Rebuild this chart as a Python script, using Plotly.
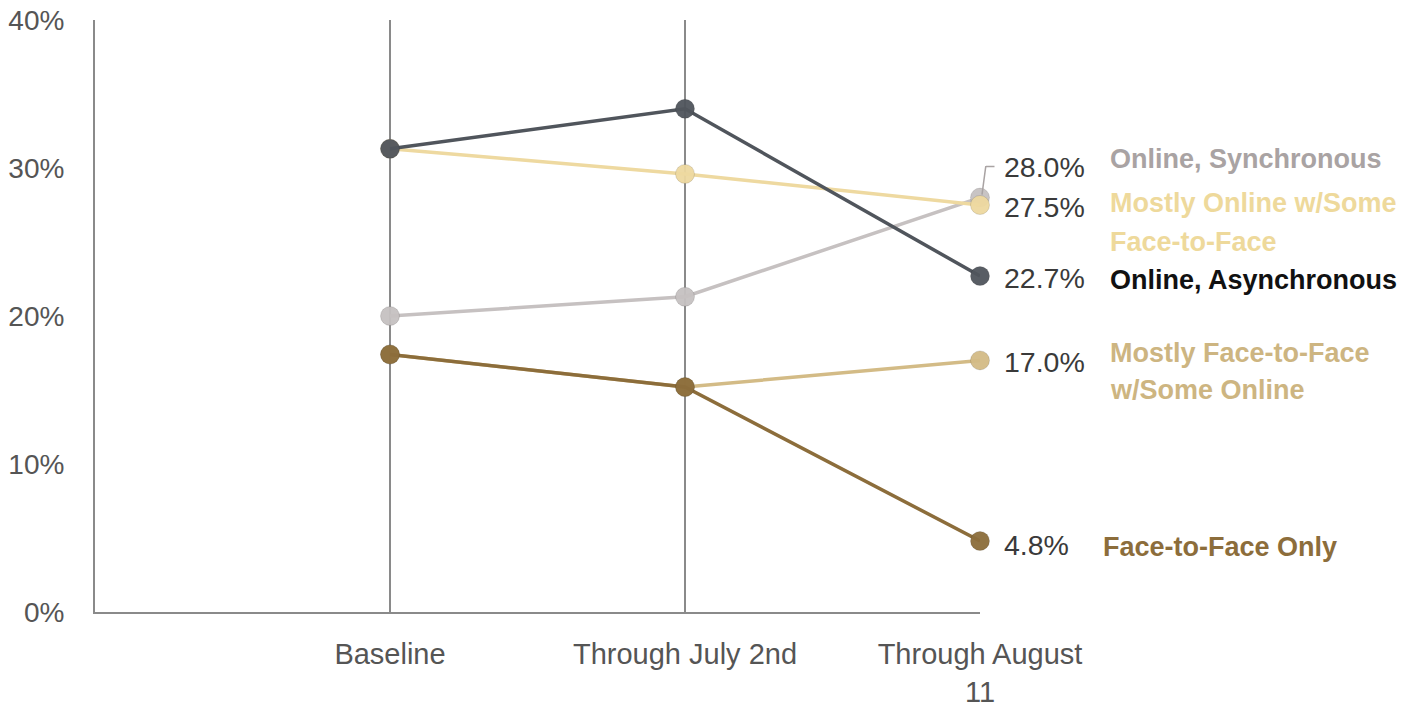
import plotly.graph_objects as go

categories = ["Baseline", "Through July 2nd", "Through August<br>11"]
x_pos = [0, 1, 2]
y_ticks = [0, 10, 20, 30, 40]
y_tick_labels = ["0%", "10%", "20%", "30%", "40%"]

series_names = [
    "Mostly Face-to-Face w/Some Online",
    "Face-to-Face Only",
    "Online, Synchronous",
    "Mostly Online w/Some Face-to-Face",
    "Online, Asynchronous",
]
mostly_f2f = [17.4, 15.2, 17.0]
f2f_only = [17.4, 15.2, 4.8]
online_sync = [20.0, 21.3, 28.0]
mostly_online = [31.3, 29.6, 27.5]
online_async = [31.3, 34.0, 22.7]
series_values = [mostly_f2f, f2f_only, online_sync, mostly_online, online_async]

line_colors = ["#d3bb86", "#8c6d3b", "#c6c1c1", "#eed9a0", "#50555c"]
label_colors = ["#cdb581", "#8c6d3b", "#a9a3a3", "#eed99b", "#111111"]

# name label lines with vertical pixel offset from final point
name_lines = [
    [("Mostly Face-to-Face", 7), ("w/Some Online", -30)],
    [("Face-to-Face Only", -6)],
    [("Online, Synchronous", 39)],
    [("Mostly Online w/Some", 2), ("Face-to-Face", -37)],
    [("Online, Asynchronous", -4)],
]
name_xshift = [128, 121, 128, 128, 128]
value_yshift = [-2, -4, 31, -2, -2]

FONT = "Liberation Sans"
FS = 27
fig = go.Figure()
for name, vals, lc in zip(series_names, series_values, line_colors):
    fig.add_trace(go.Scatter(
        x=x_pos, y=vals, mode="lines+markers", name=name,
        line=dict(color=lc, width=3.5),
        marker=dict(size=19, color=lc, opacity=0.95,
                    line=dict(color="rgba(0,0,0,0.12)", width=1)),
        showlegend=False, cliponaxis=False,
    ))

for vals, lines, lab_c, xs, vys in zip(series_values, name_lines, label_colors,
                                       name_xshift, value_yshift):
    last = vals[-1]
    fig.add_annotation(x=2, y=last, xref="x", yref="y", text=f"{last:.1f}%",
                       showarrow=False, xanchor="left", yanchor="middle",
                       xshift=22, yshift=vys,
                       font=dict(family=FONT, size=28.5, color="#3a3a3a"))
    for txt, ys in lines:
        fig.add_annotation(x=2, y=last, xref="x", yref="y", text=f"<b>{txt}</b>",
                           showarrow=False, xanchor="left", yanchor="middle",
                           xshift=xs, yshift=ys,
                           font=dict(family=FONT, size=FS, color=lab_c))

# leader line for the 28.0% label (two short arrow segments)
fig.add_annotation(x=2, y=online_sync[-1], xref="x", yref="y", text="",
                   showarrow=True, arrowhead=0, arrowwidth=1.5, arrowcolor="#a9a3a3",
                   ax=4, ay=-30, xshift=2, yshift=3)
fig.add_annotation(x=2, y=online_sync[-1], xref="x", yref="y", text="",
                   showarrow=True, arrowhead=0, arrowwidth=1.5, arrowcolor="#a9a3a3",
                   ax=10, ay=0, xshift=6, yshift=31)

fig.update_layout(
    width=1423, height=706,
    margin=dict(l=95, r=443, t=20, b=94),
    paper_bgcolor="white", plot_bgcolor="white",
    font=dict(family=FONT, size=FS, color="#555555"),
    xaxis=dict(range=[-1, 2], tickvals=x_pos, ticktext=categories,
               showgrid=True, gridcolor="#8a8a8a", gridwidth=2,
               showline=True, linecolor="#8a8a8a", linewidth=2,
               zeroline=False, ticks="", ticklabelstandoff=15, automargin=False,
               tickfont=dict(family=FONT, size=29, color="#555555")),
    yaxis=dict(range=[0, 40], tickvals=y_ticks, ticktext=y_tick_labels,
               showgrid=False, showline=True, linecolor="#8a8a8a", linewidth=2,
               zeroline=False, ticks="", ticklabelstandoff=23, automargin=False,
               tickfont=dict(family=FONT, size=28, color="#555555")),
)

fig.write_html("out.html", config={"displayModeBar": False},
               post_script="document.body.style.margin='0';document.body.style.overflow='hidden';")
